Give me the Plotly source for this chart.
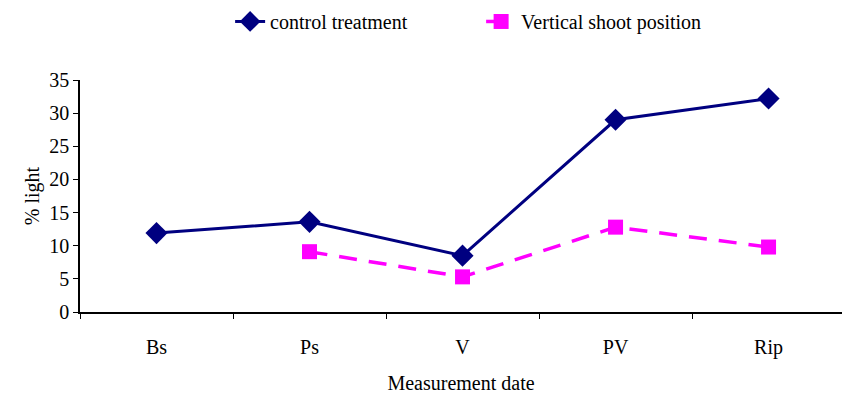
import plotly.graph_objects as go

categories = ["Bs", "Ps", "V", "PV", "Rip"]
control = [11.9, 13.6, 8.5, 29.0, 32.2]
vsp = [None, 9.1, 5.3, 12.8, 9.8]
y_ticks = [0, 5, 10, 15, 20, 25, 30, 35]

FONT = "Liberation Serif"

fig = go.Figure()
fig.add_trace(go.Scatter(
    x=categories, y=control, name="control treatment", mode="lines+markers",
    line=dict(color="#000080", width=3),
    marker=dict(symbol="diamond", size=17, color="#000080"),
))
fig.add_trace(go.Scatter(
    x=categories, y=vsp, name="Vertical shoot position", mode="lines+markers",
    line=dict(color="#FF00FF", width=3.5, dash="18px,12px"),
    marker=dict(symbol="square", size=15, color="#FF00FF"),
    connectgaps=False,
))

fig.update_layout(
    width=842, height=394,
    margin=dict(l=80, r=0, t=80, b=82),
    paper_bgcolor="white", plot_bgcolor="white",
    font=dict(family=FONT, size=20, color="black"),
    showlegend=True,
    legend=dict(orientation="h", x=0.197, xanchor="left", y=0.995, yanchor="top",
                yref="container", font=dict(size=20, family=FONT),
                entrywidth=206, entrywidthmode="pixels", tracegroupgap=0),
)
fig.update_xaxes(
    type="category", range=[-0.5, 4.48],
    showline=True, linecolor="black", linewidth=1.5,
    ticks="outside", tickson="boundaries", ticklen=5, tickcolor="black",
    showgrid=False, zeroline=False,
    tickfont=dict(size=20, family=FONT),
    ticklabelstandoff=16,
    title=dict(text="Measurement date", font=dict(size=20, family=FONT), standoff=20),
)
fig.update_yaxes(
    range=[0, 35], tickvals=y_ticks,
    showline=True, linecolor="black", linewidth=1.5,
    ticks="outside", ticklen=5, tickcolor="black",
    showgrid=False, zeroline=False,
    tickfont=dict(size=20, family=FONT),
    title=dict(text="% light", font=dict(size=20, family=FONT), standoff=4),
)
fig.write_html("out.html")
